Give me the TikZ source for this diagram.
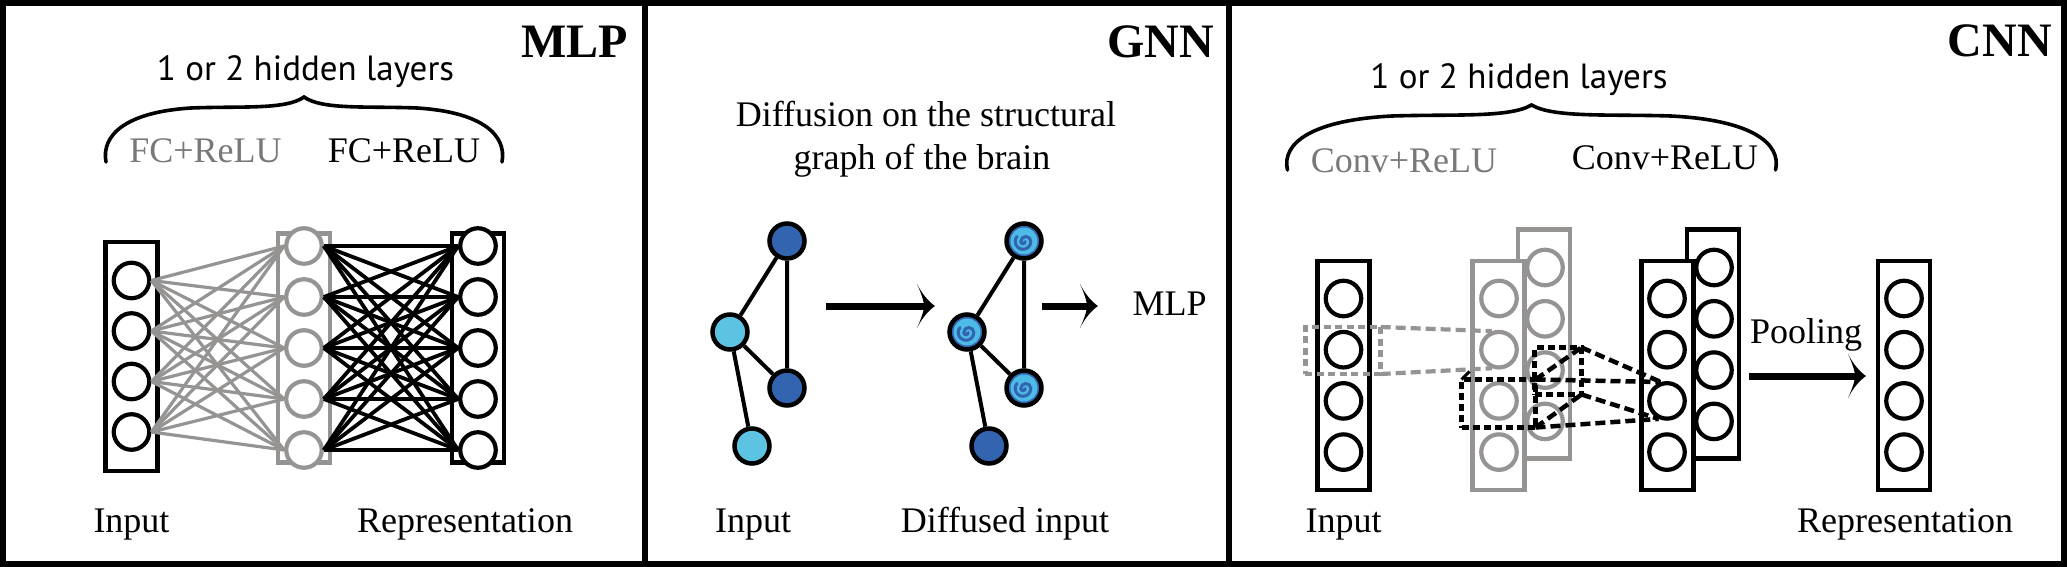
\documentclass[tikz,border=0pt]{standalone}
\usepackage{fontspec}
\setmainfont{Liberation Serif}
\newfontfamily\bracefont{PT Sans}
\usetikzlibrary{calc}
\definecolor{boxgray}{RGB}{150,147,147}
\definecolor{txtgray}{RGB}{120,120,120}
\definecolor{lblue}{RGB}{92,196,226}
\definecolor{dblue}{RGB}{50,100,176}
\definecolor{cyanin}{RGB}{78,186,230}
\tikzset{
 unit/.style={circle, draw=black, line width=4.2pt, minimum size=35.5pt, inner sep=0pt, fill=white},
 gunit/.style={unit, draw=boxgray},
 layer/.style={draw=black, line width=4.5pt, minimum width=52pt, minimum height=229pt, inner sep=0pt, fill=white},
 glayer/.style={layer, draw=boxgray},
 lbl/.style={font=\fontsize{36}{42}\selectfont, anchor=base, inner sep=0pt},
 glbl/.style={lbl, text=txtgray},
 title/.style={font=\fontsize{48}{54}\selectfont\bfseries, anchor=base east, inner sep=0pt},
 hid/.style={font=\bracefont\fontsize{35}{40}\selectfont, anchor=base, inner sep=0pt},
 gnode/.style={circle, draw=black, line width=4.5pt, minimum size=35pt, inner sep=0pt},
 gedge/.style={line width=4pt},
 fcg/.style={draw=boxgray, line width=3.2pt},
 fcb/.style={draw=black, line width=3.8pt},
 fat/.style={line width=7pt},
 headtip/.pic={\fill (0,0) .. controls (-6,-4) and (-13,-12) .. (-18,-22) .. controls (-14,-13) and (-11,-5) .. (-11,0) .. controls (-11,5) and (-14,13) .. (-18,22) .. controls (-13,12) and (-6,4) .. (0,0) -- cycle;},
 curly/.pic={\draw[line width=3.6pt, line cap=round] (2,0) .. controls (-3,-27) and (22,-50) .. (87,-54) .. controls (137,-56) and (182,-52) .. (200,-65) .. controls (218,-52) and (263,-56) .. (313,-54) .. controls (378,-50) and (403,-27) .. (398,0);},
 kbox/.style={draw=black, line width=5pt, dash pattern=on 7pt off 4pt, inner sep=0pt, outer sep=0pt},
 kline/.style={line width=4.5pt, dash pattern=on 10pt off 5pt},
 gkbox/.style={draw=boxgray, line width=4.5pt, dash pattern=on 7pt off 4.5pt, inner sep=0pt, outer sep=0pt},
 gkline/.style={draw=boxgray, line width=4.2pt, dash pattern=on 10pt off 5pt},
}
\begin{document}
\begin{tikzpicture}[x=1pt,y=-1pt]
\useasboundingbox (0,0) rectangle (2067,567);
% frame
\draw[line width=6pt] (3,3) rectangle (2064,564);
\draw[line width=6pt] (645,3) -- (645,564);
\draw[line width=6pt] (1228.5,3) -- (1228.5,564);
% ================= MLP
\node[title] (tmlp) at (628,58) {MLP};
\node[hid] (hmlp) at (305.5,81) {1 or 2 hidden layers};
\pic at (104,162) {curly};
\node[glbl] (fc1) at (205.5,162) {FC+ReLU};
\node[lbl] (fc2) at (404,163) {FC+ReLU};
\node[layer] (Lin) at (131.5,356.25) {};
\node[glayer] (Lhid) at (304,348) {};
\node[layer] (Lout) at (478,348) {};
\foreach \i in {1,...,4} \node[unit] (in\i) at (131.5,{280.5+50.5*(\i-1)}) {};
\foreach \j in {1,...,5} {\node[gunit] (h\j) at (304,{246+51*(\j-1)}) {};
  \node[unit] (o\j) at (478,{246+51*(\j-1)}) {};}
\foreach \i in {1,...,4} \foreach \j in {1,...,5} \draw[fcg] (in\i.east) -- (h\j.west);
\foreach \i in {1,...,5} \foreach \j in {1,...,5} \draw[fcb] (h\i.east) -- (o\j.west);
\node[lbl] (min) at (131.5,532) {Input};
\node[lbl] (mrep) at (465,532) {Representation};
% ================= GNN
\node[title] (tgnn) at (1214,58) {GNN};
\node[lbl] (d1) at (926,127) {Diffusion on the structural};
\node[lbl] (d2) at (922,170) {graph of the brain};
\node[gnode, fill=dblue] (n1) at (787,241) {};
\node[gnode, fill=lblue] (n2) at (730,332) {};
\node[gnode, fill=dblue] (n3) at (787,388) {};
\node[gnode, fill=lblue] (n4) at (752,446) {};
\draw[gedge] (n1)--(n2) (n1)--(n3) (n2)--(n3) (n2)--(n4);
\node[gnode, fill=dblue] (m1) at (1024,241) {};
\node[gnode, fill=dblue] (m2) at (967,332) {};
\node[gnode, fill=dblue] (m3) at (1024,388) {};
\node[gnode, fill=dblue] (m4) at (989,446) {};
\draw[gedge] (m1)--(m2) (m1)--(m3) (m2)--(m3) (m2)--(m4);
\foreach \m in {m1,m2,m3} {
  \fill[cyanin] (\m) circle (13.5);
  \draw[dblue, line width=3pt, line cap=round] ($(\m)+(1.2,0.5)$) arc[start angle=0, end angle=180, radius=2.2] arc[start angle=180, end angle=360, radius=5] arc[start angle=0, end angle=220, radius=7.8];
}
\coordinate (a1s) at (826,306); \coordinate (a1e) at (935,306);
\draw[fat] (a1s) -- ($(a1e)+(-10,0)$);
\pic at (a1e) {headtip};
\coordinate (a2s) at (1042,306); \coordinate (a2e) at (1098,306);
\draw[fat] (a2s) -- ($(a2e)+(-10,0)$);
\pic at (a2e) {headtip};
\node[lbl] (gmlp) at (1169.5,315) {MLP};
\node[lbl] (gin) at (753,532) {Input};
\node[lbl] (gdif) at (1005,532) {Diffused input};
% ================= CNN
\node[title] (tcnn) at (2052,57) {CNN};
\node[hid] (hcnn) at (1519,89) {1 or 2 hidden layers};
\pic[xscale=1.2325] at (1285,170) {curly};
\node[glbl] (cv1) at (1404,172) {Conv+ReLU};
\node[lbl] (cv2) at (1665,170) {Conv+ReLU};
\node[layer] (Cin) at (1343.5,375.3) {};
\node[glayer] (Cgb) at (1544,344) {};
\node[layer] (Cbb) at (1713,344) {};
\node[layer] (Crep) at (1904,375.3) {};
\foreach \i in {1,...,4} {
  \node[unit] (ci\i) at (1343.5,{298.5+51.2*(\i-1)}) {};
  \node[gunit] (gb\i) at (1545,{267.5+51.3*(\i-1)}) {};
  \node[unit] (bb\i) at (1714,{267.5+51.3*(\i-1)}) {};
  \node[unit] (cr\i) at (1904,{298.5+51.2*(\i-1)}) {};
}
\node[glayer] (Cgf) at (1498.5,375.3) {};
\node[layer] (Cbf) at (1667.5,375.3) {};
\foreach \i in {1,...,4} {
  \node[gunit] (gf\i) at (1499,{298.5+51.2*(\i-1)}) {};
  \node[unit] (cf\i) at (1667,{298.5+51.2*(\i-1)}) {};
}
% gray kernel
\node[gkbox, minimum width=75.4pt, minimum height=47pt] (gk) at (1343,350.5) {};
\draw[gkline] (gk.north east) -- (gf2.111);
\draw[gkline] (gk.south east) -- (gf2.249);
% black kernel
\node[kbox, minimum width=74pt, minimum height=48pt] (kA) at (1498.5,403.5) {};
\node[kbox, minimum width=47pt, minimum height=47pt] (kB) at (1558,371) {};
\draw[line width=3pt] (kA.north west) -- ++(8,-8);
\draw[kline] (kA.north east) -- (kB.north east);
\draw[kline] (kA.south east) -- (kB.south east);
\draw[kline] (kB.north east) -- (cf3.108);
\draw[kline] (kA.north east) -- (cf3.108);
\draw[kline] (kB.south east) -- (cf3.245);
\draw[kline] (kA.south east) -- (cf3.245);
% pooling
\coordinate (ps) at (1749,376); \coordinate (pe) at (1866,376);
\draw[fat] (ps) -- ($(pe)+(-10,0)$);
\pic at (pe) {headtip};
\node[lbl] (pool) at (1806,343) {Pooling};
\node[lbl] (cin) at (1343.5,532) {Input};
\node[lbl] (crep) at (1905,532) {Representation};
\end{tikzpicture}
\end{document}
